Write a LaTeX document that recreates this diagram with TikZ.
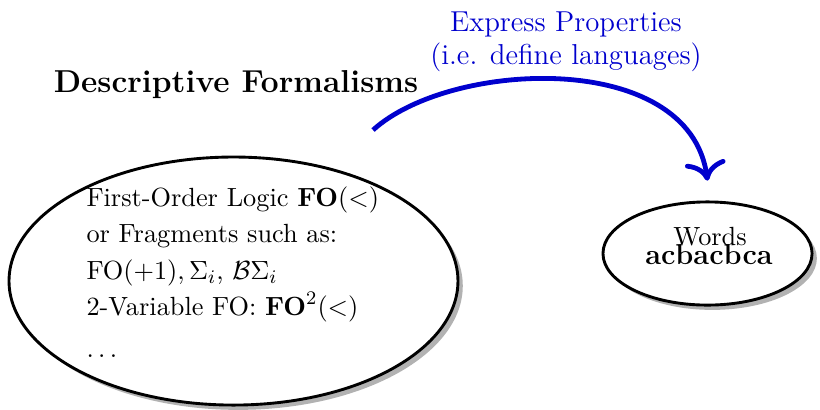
\documentclass[tikz,border=0pt]{standalone}
\usepackage{amsmath,amssymb}
\usepackage[no-math]{fontspec}
\usetikzlibrary{shapes.geometric,shadows,arrows.meta}
\definecolor{propblue}{RGB}{0,0,205}

\begin{document}
\begin{tikzpicture}[
  blob/.style={ellipse,draw,very thick,fill=white,
    drop shadow={shadow xshift=2pt,shadow yshift=-2pt,fill=black!30,opacity=1}},
  express/.style={->,>={To[scale=1.35]},line width=2pt,propblue}]
  \useasboundingbox (0,0) rectangle (12,5.986);
  \node[blob,minimum width=6.57cm,minimum height=3.63cm] (formal) at (3.417,1.873) {};
  \node[anchor=north west,inner sep=0pt,align=left,font=\fontsize{10.95}{15.1}\selectfont] (fotext) at (1.259,3.259)
    {First-Order Logic $\mathbf{FO}(<)$\\
     or Fragments such as:\\
     $\mathrm{FO}(+1), \Sigma_i$, $\mathcal{B}\Sigma_i$\\
     2-Variable FO: $\mathbf{FO}^2(<)$\\[2.5pt]
     $\dots$};
  \node[anchor=base,font=\fontsize{13.2}{16}\selectfont\bfseries] (title) at (3.454,4.625) {Descriptive Formalisms};
  \node[blob,minimum width=3.06cm,minimum height=1.51cm] (words) at (10.354,2.276) {};
  \node[anchor=base,font=\fontsize{10.95}{13.6}\selectfont] (wordlbl) at (10.391,2.393) {Words};
  \node[anchor=base,font=\large\bfseries] (wordex) at (10.376,2.115) {acbacbca};
  \coordinate (src) at (5.459,4.083);
  \coordinate (dst) at ([yshift=0.29cm]words.north);
  \draw[express] (src) .. controls +(1.127,1.025) and +(-0.263,1.932) .. (dst);
  \node[anchor=north,inner sep=0pt,align=center,text=propblue,font=\large] (exprlbl) at (8.283,5.825)
    {Express Properties\\(i.e. define languages)};
\end{tikzpicture}
\end{document}
